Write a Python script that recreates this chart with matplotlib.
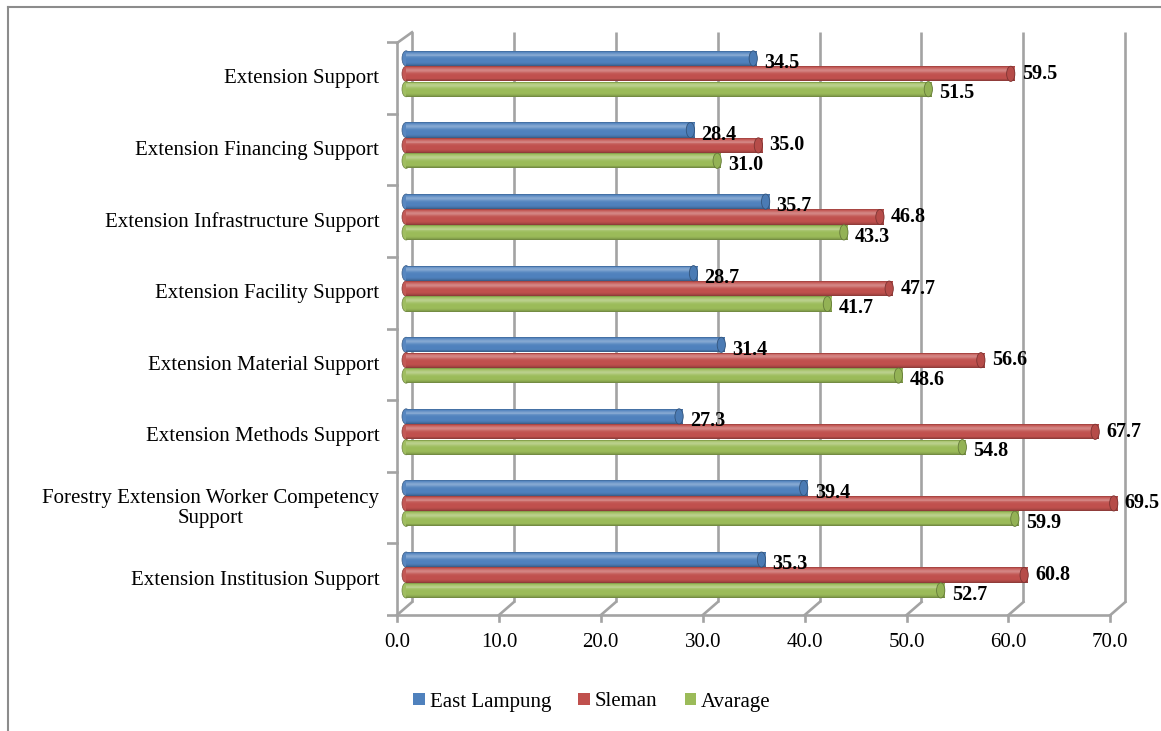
import numpy as np
import matplotlib.pyplot as plt
from matplotlib.patches import Ellipse, Patch
from matplotlib.lines import Line2D
from matplotlib.colors import to_rgb

plt.rcParams['font.family'] = ['Liberation Serif', 'DejaVu Serif']

# data, bottom category first
categories = ['Extension Institusion Support',
              'Forestry Extension Worker Competency\nSupport',
              'Extension Methods Support',
              'Extension Material Support',
              'Extension Facility Support',
              'Extension Infrastructure Support',
              'Extension Financing Support',
              'Extension Support']
east_lampung = [35.3, 39.4, 27.3, 31.4, 28.7, 35.7, 28.4, 34.5]
sleman = [60.8, 69.5, 67.7, 56.6, 47.7, 46.8, 35.0, 59.5]
avarage = [52.7, 59.9, 54.8, 48.6, 41.7, 43.3, 31.0, 51.5]
series_names = ['East Lampung', 'Sleman', 'Avarage']
x_ticks = [0, 10, 20, 30, 40, 50, 60, 70]

colors = ['#4F81BD', '#C0504D', '#9BBB59']
grid_col = '#a3a3a3'
fs = 15


def shade(c, s):
    c = np.array(to_rgb(c))
    if s >= 0:
        return tuple(c + (1 - c) * s)
    return tuple(c * (1 + s))


fig = plt.figure(figsize=(11.61, 7.31), dpi=100)
# x: 0 -> px 402, 10.3 px per unit ; y: category 0 -> px 575, 71.6 px per unit
ax = fig.add_axes([0.33295, 0.14484, 0.65207, 0.82276])
ax.set_xlim(-1.5, 72)
ax.set_ylim(-0.7, 7.7)
ax.axis('off')


def front_x(v):
    return -0.485 + 0.9893 * v


def back_x(v):
    return front_x(v) + 1.456


floor_f, floor_b = -0.56, -0.378
top_f, top_b = 7.43, 7.58
lw = 1.9

# back wall gridlines
for v in x_ticks:
    ax.plot([back_x(v), back_x(v)], [floor_b, top_b], color=grid_col, lw=lw,
            solid_capstyle='butt', zorder=1)
    # floor slants and front ticks
    ax.plot([front_x(v), back_x(v)], [floor_f, floor_b], color=grid_col, lw=lw, zorder=1)
    ax.plot([front_x(v), front_x(v)], [floor_f, floor_f - 0.08], color=grid_col, lw=lw, zorder=1)
    ax.annotate(f'{v:.1f}', (front_x(v), floor_f), xytext=(0, -20),
                textcoords='offset points', ha='center', va='center', fontsize=fs)

# left wall
ax.plot([front_x(0), front_x(0)], [floor_f, top_f], color=grid_col, lw=lw, zorder=1)
ax.plot([front_x(0), back_x(0)], [top_f, top_b], color=grid_col, lw=lw, zorder=1)
ax.plot([front_x(0), front_x(70)], [floor_f, floor_f], color=grid_col, lw=lw, zorder=1)
for k in range(9):
    yk = floor_f + k
    ax.plot([front_x(0) - 1.1, front_x(0)], [yk, yk], color=grid_col, lw=lw, zorder=1)

# cylinder bars
ypos = np.arange(len(categories))
offsets = [0.215, 0.0, -0.215]
label_dy = [-3.5, 0, -3]
h = 0.212
capw = 0.8
n_sl = 16
tt = (np.arange(n_sl) + 0.5) / n_sl
prof = (0.3 * np.exp(-((tt - 0.27) / 0.15) ** 2)
        - 0.32 * np.clip((tt - 0.72) / 0.28, 0, None) ** 2
        - 0.22 * np.clip((0.1 - tt) / 0.1, 0, None))

for s, vals in enumerate([east_lampung, sleman, avarage]):
    col = colors[s]
    yc = ypos + offsets[s]
    vals = np.array(vals)
    for i, t in enumerate(tt):
        yy = yc + h / 2 - (i + 0.5) * h / n_sl
        ax.barh(yy, vals - capw / 2, height=h / n_sl * 1.05, left=capw / 2,
                color=shade(col, prof[i]), lw=0, zorder=3)
    for y0, v in zip(yc, vals):
        ax.add_patch(Ellipse((capw / 2, y0), capw, h, facecolor=shade(col, 0.05),
                             edgecolor=shade(col, -0.3), lw=0.5, zorder=2.9))
        ax.add_patch(Ellipse((v - capw / 2, y0), capw, h, facecolor=shade(col, -0.05),
                             edgecolor=shade(col, -0.35), lw=0.6, zorder=5))
        ax.annotate(f'{v:.1f}', (v, y0), xytext=(5, label_dy[s]),
                    textcoords='offset points', ha='left', va='center',
                    fontsize=14.5, fontweight='bold', zorder=6)

# category labels
for y0, c in zip(ypos, categories):
    ax.text(-2.2, y0 - 0.07, c, ha='right', va='center', fontsize=fs,
            multialignment='center', linespacing=1.05, clip_on=False)

handles = [Patch(facecolor=c, edgecolor='none') for c in colors]
fig.legend(handles, series_names, loc='center', bbox_to_anchor=(592 / 1161, 1 - 702 / 731),
           ncol=3, frameon=False, fontsize=fs, handlelength=0.55, handleheight=0.55,
           handletextpad=0.25, columnspacing=1.3)

# outer frame (left and top only)
fig.add_artist(Line2D([8 / 1161, 8 / 1161], [0, 1 - 7 / 731], transform=fig.transFigure,
                      color='#8c8c8c', lw=1.5))
fig.add_artist(Line2D([8 / 1161, 1], [1 - 7 / 731, 1 - 7 / 731], transform=fig.transFigure,
                      color='#8c8c8c', lw=1.5))

fig.savefig('out.png', dpi=100)
